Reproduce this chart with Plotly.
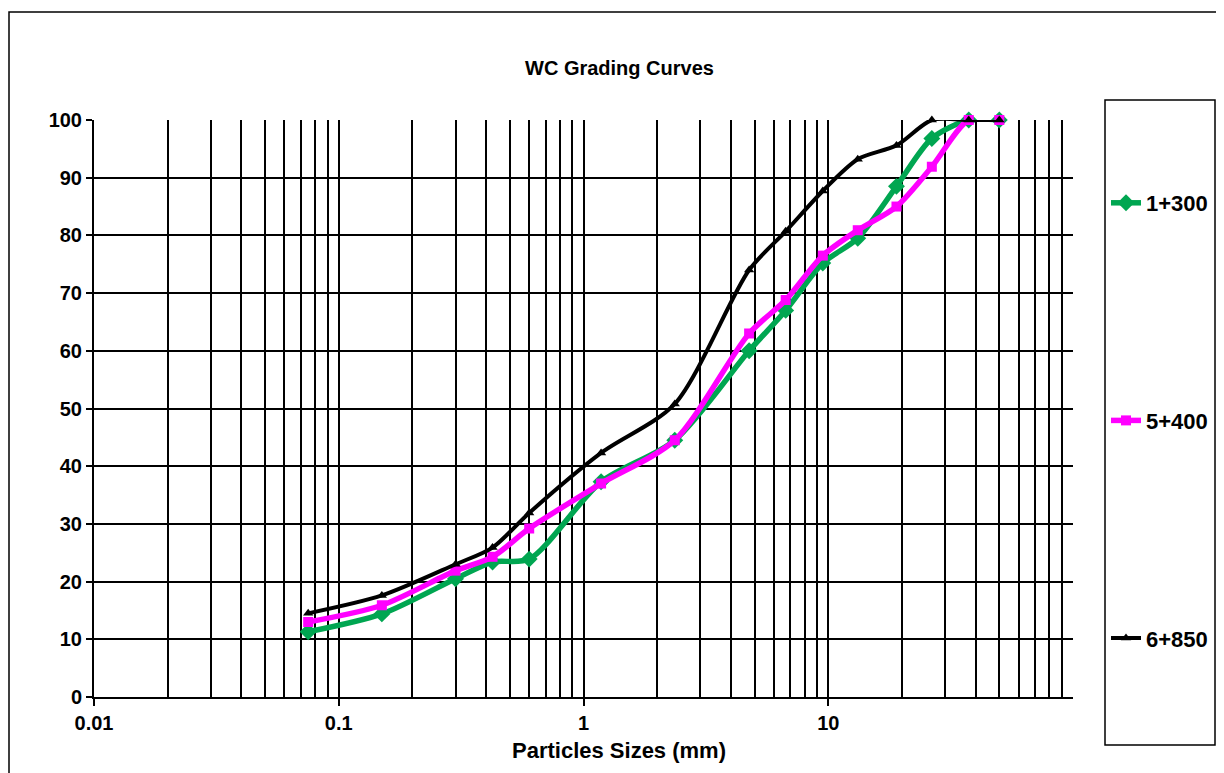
import plotly.graph_objects as go

sizes_mm = [0.075, 0.15, 0.3, 0.425, 0.6, 1.18, 2.36, 4.75, 6.7, 9.5, 13.2, 19, 26.5, 37.5, 50]
pass_1300 = [11.3, 14.4, 20.5, 23.4, 23.9, 37.3, 44.5, 60.0, 67.0, 75.2, 79.5, 88.5, 96.8, 100, 100]
pass_5400 = [13.0, 15.9, 21.9, 24.3, 29.2, 37.0, 44.5, 63.0, 68.8, 76.5, 80.9, 85.0, 91.9, 100, 100]
pass_6850 = [14.5, 17.6, 23.0, 25.9, 31.9, 42.3, 50.8, 74.0, 80.7, 87.7, 93.2, 95.6, 100, 100, 100]

series_names = ["1+300", "5+400", "6+850"]
series_values = [pass_1300, pass_5400, pass_6850]
series_colors = ["#00A651", "#FF00FF", "#000000"]
series_symbols = ["diamond", "square", "triangle-up"]
series_msize = [13, 10, 9]
series_lwidth = [5.5, 5.5, 4]

x_tick_vals = [0.01, 0.1, 1, 10]
x_tick_text = ["0.01", "0.1", "1", "10"]
x_minor_vals = [m * 10 ** e for e in range(-2, 2) for m in range(2, 10)]

FONT = "Arial, 'Liberation Sans', sans-serif"

fig = go.Figure()
for i, (name, vals) in enumerate(zip(series_names, series_values)):
    fig.add_trace(go.Scatter(
        x=sizes_mm, y=vals, name="<b>" + name + "</b>", mode="lines+markers",
        line=dict(color=series_colors[i], width=series_lwidth[i], shape="spline", smoothing=0.8),
        marker=dict(symbol=series_symbols[i], size=series_msize[i], color=series_colors[i]),
        legendgroup=name, cliponaxis=False,
    ))

OFF = 8  # page body margin
W, H = 1224, 773
L, T = 94 - OFF, 120 - OFF
R = W - (1073 - OFF)
B = H - (697 - OFF)
pw, ph = W - L - R, H - T - B

def px_x(p):
    return (p - OFF - L) / pw

def px_y(p):
    return (H - B - (p - OFF)) / ph

fig.update_layout(
    width=W, height=H,
    margin=dict(l=L, r=R, t=T, b=B),
    paper_bgcolor="white", plot_bgcolor="white",
    font=dict(family=FONT, color="black"),
    showlegend=True,
    legend=dict(
        x=px_x(1106), xanchor="left", y=px_y(182), yanchor="top",
        font=dict(family=FONT, size=22, color="black"),
        tracegroupgap=186, bgcolor="rgba(0,0,0,0)", itemwidth=30,
    ),
    annotations=[
        dict(text="<b>WC Grading Curves</b>", x=px_x(619), y=px_y(68), xref="paper", yref="paper",
             showarrow=False, font=dict(family=FONT, size=20, color="black"), xanchor="center", yanchor="middle"),
        dict(text="<b>Particles Sizes (mm)</b>", x=px_x(619), y=px_y(750), xref="paper", yref="paper",
             showarrow=False, font=dict(family=FONT, size=22, color="black"), xanchor="center", yanchor="middle"),
    ],
    shapes=[
        dict(type="rect", xref="paper", yref="paper", x0=px_x(9), x1=px_x(1250), y0=px_y(800), y1=px_y(12),
             line=dict(color="black", width=1.5), fillcolor="rgba(0,0,0,0)", layer="below"),
        dict(type="rect", xref="paper", yref="paper", x0=px_x(1105), x1=px_x(1215), y0=px_y(745), y1=px_y(100),
             line=dict(color="black", width=1.5), fillcolor="rgba(0,0,0,0)"),
    ],
)

fig.update_xaxes(
    type="log", range=[-2, 2],
    tickvals=x_tick_vals, ticktext=x_tick_text,
    tickfont=dict(family=FONT, size=20, color="black", weight="bold"),
    ticks="outside", ticklen=7, tickwidth=2, tickcolor="black",
    showgrid=True, gridcolor="black", gridwidth=2,
    showline=True, linecolor="black", linewidth=2,
    zeroline=False,
    minor=dict(tickvals=x_minor_vals, showgrid=True, gridcolor="black", gridwidth=2, ticks=""),
)
fig.update_yaxes(
    range=[0, 100], dtick=10,
    tickfont=dict(family=FONT, size=20, color="black", weight="bold"),
    ticks="outside", ticklen=6, tickwidth=2, tickcolor="black",
    showgrid=True, gridcolor="black", gridwidth=2,
    showline=True, linecolor="black", linewidth=2,
    zeroline=False,
)

fig.write_html("out.html")
